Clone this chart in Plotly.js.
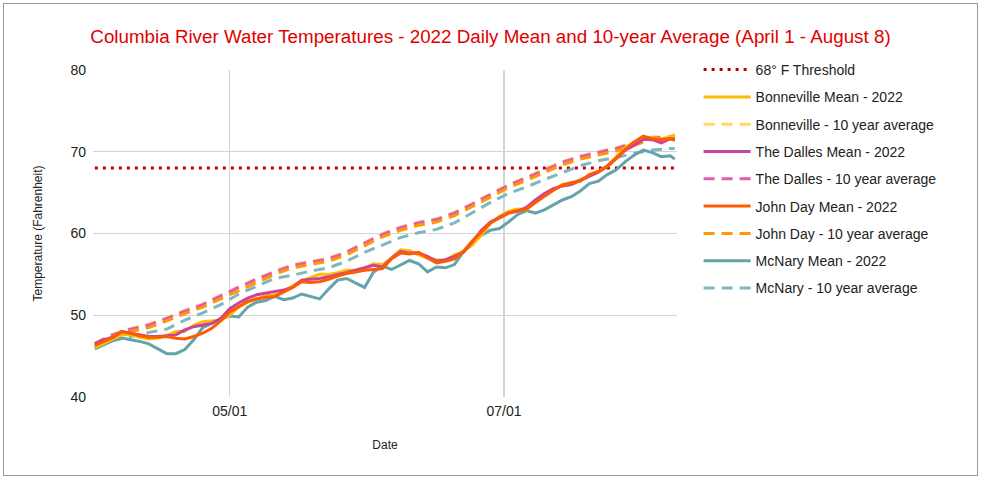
<!DOCTYPE html>
<html>
<head>
<meta charset="utf-8">
<script src="https://cdn.plot.ly/plotly-3.0.1.min.js"></script>
<style>
  html, body { margin: 0; padding: 0; background: #fff; }
  #frame { position: absolute; left: 3px; top: 3px; width: 973px; height: 471px; border: 1px solid #9a9a9a; }
  #chart { width: 973px; height: 471px; }
</style>
</head>
<body>
<div id="frame"><div id="chart"></div></div>
<script>
// Daily mean sample dates (every 2 days)
const dates = [
  "2022-04-01","2022-04-03","2022-04-05","2022-04-07","2022-04-09","2022-04-11","2022-04-13","2022-04-15",
  "2022-04-17","2022-04-19","2022-04-21","2022-04-23","2022-04-25","2022-04-27","2022-04-29",
  "2022-05-01","2022-05-03","2022-05-05","2022-05-07","2022-05-09","2022-05-11","2022-05-13","2022-05-15",
  "2022-05-17","2022-05-19","2022-05-21","2022-05-23","2022-05-25","2022-05-27","2022-05-29","2022-05-31",
  "2022-06-02","2022-06-04","2022-06-06","2022-06-08","2022-06-10","2022-06-12","2022-06-14","2022-06-16",
  "2022-06-18","2022-06-20","2022-06-22","2022-06-24","2022-06-26","2022-06-28","2022-06-30",
  "2022-07-02","2022-07-04","2022-07-06","2022-07-08","2022-07-10","2022-07-12","2022-07-14","2022-07-16",
  "2022-07-18","2022-07-20","2022-07-22","2022-07-24","2022-07-26","2022-07-28","2022-07-30",
  "2022-08-01","2022-08-03","2022-08-05","2022-08-07","2022-08-08"
];

const bonnevilleMean = [
  46.0,46.6,47.1,47.6,47.6,47.3,47.1,47.2,47.5,48.0,48.0,48.8,49.2,49.3,49.4,
  50.0,51.0,51.6,52.0,52.4,52.5,52.9,53.6,54.2,54.6,55.0,55.0,55.2,55.5,55.5,55.8,
  56.3,56.2,57.0,58.0,57.9,57.4,57.0,56.8,56.7,57.4,57.8,58.6,59.8,61.2,62.1,
  62.7,63.0,62.9,63.9,64.8,65.3,66.0,66.2,66.6,67.1,67.6,68.3,69.4,70.5,71.2,
  71.6,71.7,71.6,71.8,72.1
];
const dallesMean = [
  46.5,47.0,47.3,48.0,47.8,47.6,47.4,47.4,47.5,47.6,48.2,48.6,48.8,49.0,49.6,
  50.8,51.5,52.1,52.5,52.7,52.9,53.1,53.4,54.3,54.4,54.5,54.7,55.0,55.2,55.5,55.8,
  56.1,55.9,57.0,57.8,57.6,57.6,57.2,56.6,56.8,57.2,57.7,59.0,60.4,61.4,62.0,
  62.5,62.7,63.2,64.1,64.9,65.5,65.8,66.0,66.5,67.0,67.5,68.2,69.2,70.2,70.8,
  71.5,71.5,71.1,71.6,71.5
];
const johnDayMean = [
  46.3,46.8,47.3,48.0,47.8,47.5,47.3,47.3,47.4,47.2,47.1,47.4,47.8,48.4,49.3,
  50.4,51.0,51.7,52.0,52.2,52.3,52.8,53.4,54.1,54.0,54.1,54.4,54.8,55.1,55.3,55.5,
  55.6,55.7,56.9,57.6,57.5,57.7,57.0,56.4,56.6,56.9,57.8,59.1,60.2,61.3,61.9,
  62.5,62.8,63.0,63.8,64.6,65.3,65.9,66.2,66.4,67.2,67.6,68.2,69.2,70.3,71.2,
  71.9,71.6,71.5,71.6,71.4
];
const mcnaryMean = [
  45.9,46.4,46.9,47.2,47.0,46.8,46.5,45.9,45.3,45.3,45.8,47.0,48.5,49.0,49.6,
  49.9,49.8,51.0,51.6,51.8,52.3,51.9,52.1,52.6,52.3,52.0,53.2,54.3,54.5,53.9,53.4,
  55.3,56.0,55.6,56.2,56.7,56.3,55.3,55.9,55.8,56.2,57.8,59.0,59.8,60.4,60.6,
  61.4,62.3,62.8,62.5,62.9,63.5,64.1,64.5,65.2,66.1,66.4,67.2,67.8,68.8,69.6,
  70.2,69.9,69.4,69.5,69.1
];

// 10-year average sample dates (every 4 days)
const avgDates = [
  "2022-04-01","2022-04-05","2022-04-09","2022-04-13","2022-04-17","2022-04-21","2022-04-25","2022-04-29",
  "2022-05-03","2022-05-07","2022-05-11","2022-05-15","2022-05-19","2022-05-23","2022-05-27","2022-05-31",
  "2022-06-04","2022-06-08","2022-06-12","2022-06-16","2022-06-20","2022-06-24","2022-06-28",
  "2022-07-02","2022-07-06","2022-07-10","2022-07-14","2022-07-18","2022-07-22","2022-07-26","2022-07-30",
  "2022-08-03","2022-08-07","2022-08-08"
];
const bonnevilleAvg = [
  46.6,47.7,48.4,48.9,49.7,50.6,51.4,52.4,53.5,54.5,55.4,56.2,56.6,57.0,57.8,58.9,
  60.0,60.8,61.4,61.8,62.6,63.7,64.8,66.0,66.9,67.9,68.8,69.5,70.0,70.5,71.2,71.8,71.9,72.0
];
const dallesAvg = [
  46.5,47.6,48.3,48.8,49.6,50.5,51.3,52.3,53.4,54.4,55.3,56.1,56.5,56.9,57.7,58.8,
  59.9,60.7,61.3,61.7,62.5,63.6,64.7,65.9,66.8,67.8,68.7,69.4,69.9,70.4,71.1,71.7,71.8,71.9
];
const johnDayAvg = [
  46.3,47.3,48.0,48.5,49.3,50.2,51.0,52.0,53.1,54.1,55.0,55.8,56.2,56.6,57.4,58.5,
  59.6,60.4,61.0,61.4,62.2,63.3,64.4,65.6,66.5,67.5,68.4,69.1,69.6,70.1,70.8,71.5,71.6,71.7
];
const mcnaryAvg = [
  46.0,46.9,47.4,47.9,48.3,49.4,50.3,51.3,52.6,53.6,54.5,54.9,55.4,55.8,56.6,57.7,
  58.6,59.5,60.1,60.5,61.3,62.6,63.8,64.9,65.7,66.6,67.5,68.3,68.9,69.3,69.8,70.2,70.4,70.4
];

const thresholdDates = ["2022-04-01","2022-08-08"];
const thresholdValues = [68, 68];

const yTicks = [40, 50, 60, 70, 80];
const xTicks = ["2022-05-01", "2022-07-01"];
const xTickLabels = ["05/01", "07/01"];

const FONT = "Arial, 'Liberation Sans', sans-serif";
const DASH = "11px,7px";

// legend slot: 0 = first row ... 8 = last row (each row uses its own legend box)
function tr(name, x, y, color, dash, slot) {
  return {
    type: "scatter", mode: "lines", name: name, x: x, y: y,
    legend: slot === 0 ? "legend" : "legend" + (slot + 1),
    line: { color: color, width: 3, dash: dash },
    hoverinfo: "x+y+name"
  };
}

const data = [
  tr("68° F Threshold", thresholdDates, thresholdValues, "#b80000", "3px,5px", 0),
  tr("Bonneville - 10 year average", avgDates, bonnevilleAvg, "#ffd966", DASH, 2),
  tr("The Dalles - 10 year average", avgDates, dallesAvg, "#e35bb0", DASH, 4),
  tr("John Day - 10 year average", avgDates, johnDayAvg, "#ff9900", DASH, 6),
  tr("McNary - 10 year average", avgDates, mcnaryAvg, "#7fb7c1", DASH, 8),
  tr("McNary Mean - 2022", dates, mcnaryMean, "#64a3ac", "solid", 7),
  tr("Bonneville Mean - 2022", dates, bonnevilleMean, "#fbbc04", "solid", 1),
  tr("The Dalles Mean - 2022", dates, dallesMean, "#c8449a", "solid", 3),
  tr("John Day Mean - 2022", dates, johnDayMean, "#ff5a00", "solid", 5)
];

const layout = {
  width: 973, height: 471,
  margin: { l: 89, r: 300, t: 66, b: 78 },
  paper_bgcolor: "#ffffff", plot_bgcolor: "#ffffff",
  font: { family: FONT, size: 14, color: "#222222" },
  title: {
    text: "Columbia River Water Temperatures - 2022 Daily Mean and 10-year Average (April 1 - August 8)",
    font: { family: FONT, size: 18.8, color: "#e00000" },
    x: 0.5, xanchor: "center", y: 0.932, yanchor: "middle"
  },
  xaxis: {
    type: "date",
    range: ["2022-03-31 14:00", "2022-08-08 12:00"],
    tickvals: xTicks, ticktext: xTickLabels,
    showgrid: true, gridcolor: "#d4d4d4", gridwidth: 1.5,
    zeroline: false, showline: false, ticks: "",
    ticklabelstandoff: 4,
    tickfont: { family: FONT, size: 14, color: "#222" },
    title: { text: "Date", font: { family: FONT, size: 12, color: "#222" }, standoff: 22 }
  },
  yaxis: {
    range: [40, 80], tickvals: yTicks,
    showgrid: true, gridcolor: "#d4d4d4", gridwidth: 1,
    zeroline: false, showline: false, ticks: "",
    ticklabelstandoff: 6,
    tickfont: { family: FONT, size: 14, color: "#222" },
    title: { text: "Temperature (Fahrenheit)", font: { family: FONT, size: 12, color: "#222" }, standoff: 25 }
  },
  showlegend: true
};

// one legend box per row, 27.3 px apart, first row level with the top gridline
const plotH = 471 - 66 - 78;
for (let i = 0; i < 9; i++) {
  const key = i === 0 ? "legend" : "legend" + (i + 1);
  layout[key] = {
    x: 1.037, xanchor: "left",
    y: 1 - (27.3 * i) / plotH, yanchor: "middle",
    font: { family: FONT, size: 14, color: "#222" },
    bgcolor: "rgba(0,0,0,0)", itemwidth: 47
  };
}

Plotly.newPlot("chart", data, layout, { displayModeBar: false, staticPlot: true });
</script>
</body>
</html>
